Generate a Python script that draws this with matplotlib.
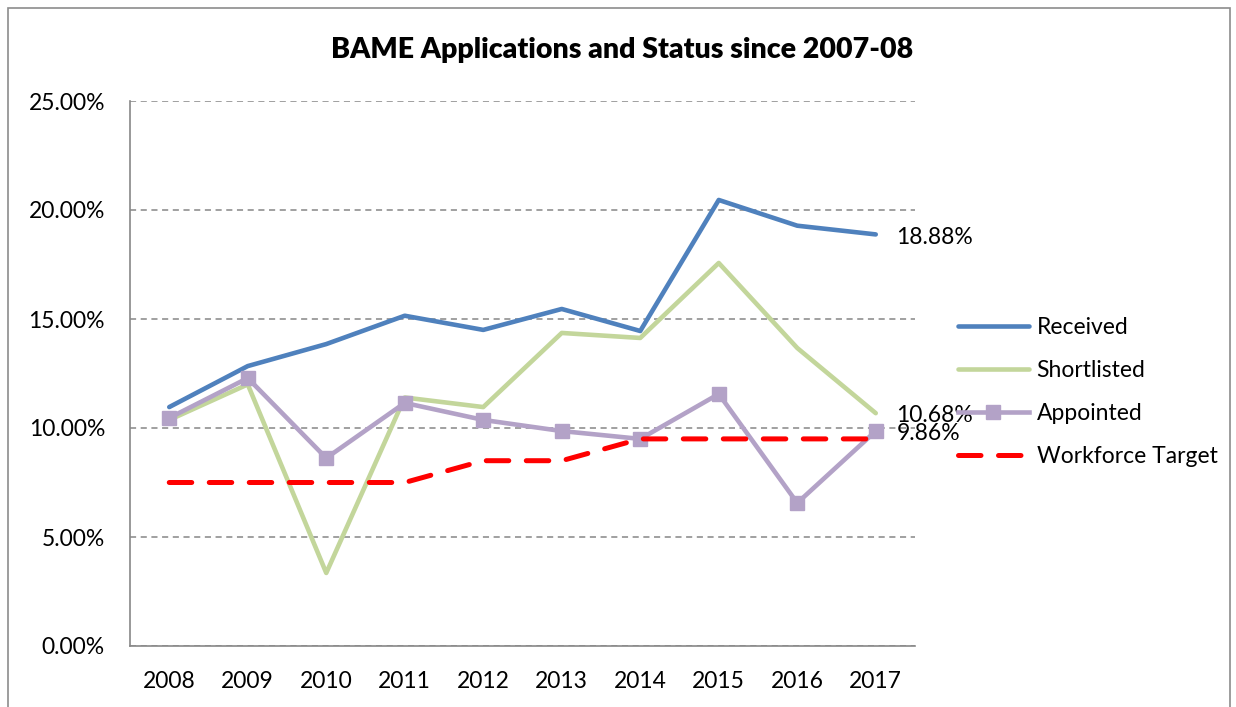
import matplotlib
matplotlib.use('Agg')
import matplotlib.pyplot as plt
from matplotlib.patches import Rectangle

plt.rcParams['font.family'] = ['Lato', 'DejaVu Sans']

# Chart data (percent)
years = ['2008', '2009', '2010', '2011', '2012', '2013', '2014', '2015', '2016', '2017']
received = [10.96, 12.84, 13.85, 15.15, 14.50, 15.46, 14.45, 20.46, 19.28, 18.88]
shortlisted = [10.37, 12.00, 3.35, 11.40, 10.96, 14.36, 14.13, 17.57, 13.67, 10.68]
appointed = [10.46, 12.29, 8.62, 11.15, 10.37, 9.86, 9.50, 11.56, 6.56, 9.86]
target = [7.5, 7.5, 7.5, 7.5, 8.5, 8.5, 9.5, 9.5, 9.5, 9.5]
yticks = [0, 5, 10, 15, 20, 25]

fig = plt.figure(figsize=(12.36, 7.07), dpi=100)
ax = fig.add_axes([130 / 1236, 61 / 707, 785 / 1236, 545 / 707])

x = list(range(len(years)))

# Series
ax.plot(x, received, color='#4F81BD', lw=3.3, solid_capstyle='round',
        label='Received', zorder=3)
ax.plot(x, shortlisted, color='#C3D69B', lw=3.3, solid_capstyle='round',
        label='Shortlisted', zorder=3)
ax.plot(x, appointed, color='#B3A2C7', lw=3.3, marker='s', markersize=10,
        label='Appointed', zorder=4)
ax.plot(x, target, color='#FF0000', lw=3.6, dashes=(4.5, 3.5),
        dash_capstyle='round', label='Workforce Target', zorder=5)

# End labels
for vals in (received, shortlisted, appointed):
    ax.annotate('%.2f%%' % vals[-1], (x[-1], vals[-1]), xytext=(15, -2),
                textcoords='offset points', va='center', ha='left',
                fontsize=16.5, annotation_clip=False, zorder=6)

# Axes styling
ax.set_xlim(-0.5, len(years) - 0.5)
ax.set_ylim(0, 25)
ax.set_xticks(x)
ax.set_xticklabels(years)
ax.set_yticks(yticks)
ax.set_yticklabels(['%.2f%%' % v for v in yticks])
ax.tick_params(length=0, labelsize=16.5)
ax.tick_params(axis='x', pad=18)
ax.tick_params(axis='y', pad=18)
ax.grid(axis='y', color='#868686', ls=(0, (4, 3)), lw=1.1)
ax.set_axisbelow(True)
for side in ('top', 'right'):
    ax.spines[side].set_visible(False)
for side in ('left', 'bottom'):
    ax.spines[side].set_color('#888888')
    ax.spines[side].set_linewidth(1.2)

# Title
fig.text(0.5 * (330 + 915) / 1236, 1 - 50 / 707,
         'BAME Applications and Status since 2007-08',
         ha='center', va='center', fontsize=20.5, fontweight='heavy')

# Legend
leg = fig.legend(loc='center left', bbox_to_anchor=(937 / 1236, 1 - 392 / 707),
                 frameon=False, fontsize=16.5, handlelength=3.1,
                 handletextpad=0.35, labelspacing=0.95, numpoints=1)

# Chart border
fig.add_artist(Rectangle((8 / 1236, -0.02), 1222 / 1236, 1 - 8 / 707 + 0.02,
                         transform=fig.transFigure, fill=False,
                         edgecolor='#8c8c8c', lw=1.2))

fig.savefig('out.png', dpi=100)
